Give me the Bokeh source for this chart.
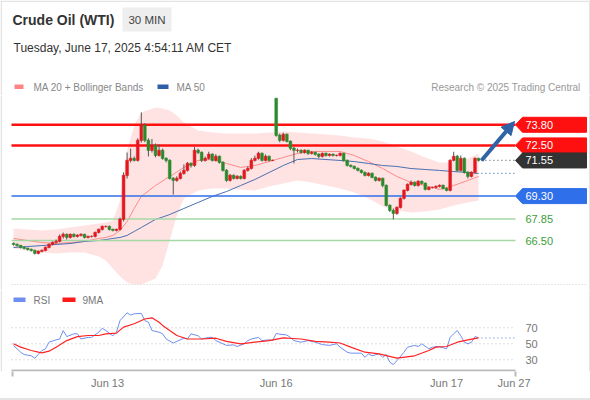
from bokeh.plotting import figure
from bokeh.layouts import column
from bokeh.models import Range1d, FixedTicker, Arrow, NormalHead
from bokeh.core.properties import value
from bokeh.embed import file_html
from bokeh.resources import INLINE

FONT = "Liberation Sans"

# ---------------- data ----------------
OPEN = [66.31, 66.25, 66.18, 66.06, 66.00, 65.93, 65.87, 65.68, 65.81, 65.87,
        66.06, 66.25, 66.37, 66.44, 66.75, 66.88, 66.69, 66.88, 66.75, 66.82,
        66.88, 66.69, 66.75, 66.75, 67.00, 67.19, 67.38, 67.38, 67.19, 67.13,
        67.19, 67.83, 70.60, 71.55, 71.67, 71.55, 72.81, 73.76, 72.81, 72.18,
        72.49, 71.86, 72.18, 71.67, 71.55, 70.41, 70.29, 70.41, 70.73, 70.92,
        71.36, 71.23, 72.18, 72.05, 71.55, 71.67, 71.93, 71.55, 71.80, 71.42,
        70.92, 70.29, 70.60, 70.41, 70.54, 70.41, 70.92, 71.04, 71.55, 71.67,
        71.99, 71.55, 71.80, 71.55, 75.46, 73.13, 72.81, 73.19, 72.75, 72.31,
        72.18, 72.18, 72.05, 72.18, 71.99, 72.05, 71.93, 71.80, 71.99, 71.86,
        71.93, 71.86, 71.86, 71.99, 71.55, 71.23, 71.17, 71.04, 70.92, 70.79,
        70.60, 70.73, 70.48, 70.29, 70.41, 69.97, 68.71, 68.39, 68.20, 68.58,
        69.15, 69.66, 70.03, 70.16, 69.97, 70.22, 70.10, 69.72, 69.84, 69.84,
        69.91, 69.97, 69.78, 69.66, 71.55, 71.80, 70.92, 71.67, 70.79, 70.54,
        70.79, 71.67]
CLOSE = [66.25, 66.18, 66.06, 66.00, 65.93, 65.87, 65.68, 65.81, 65.87, 66.06,
         66.25, 66.37, 66.44, 66.75, 66.88, 66.69, 66.88, 66.75, 66.82, 66.88,
         66.69, 66.75, 66.75, 67.00, 67.19, 67.38, 67.38, 67.19, 67.13, 67.19,
         67.83, 70.60, 71.55, 71.67, 71.55, 72.81, 73.76, 72.81, 72.18, 72.49,
         71.86, 72.18, 71.67, 71.55, 70.41, 70.29, 70.41, 70.73, 70.92, 71.36,
         71.23, 72.18, 72.05, 71.55, 71.67, 71.93, 71.55, 71.80, 71.42, 70.92,
         70.29, 70.60, 70.41, 70.54, 70.41, 70.92, 71.04, 71.55, 71.67, 71.99,
         71.55, 71.80, 71.55, 71.55, 73.13, 72.81, 73.19, 72.75, 72.31, 72.18,
         72.18, 72.05, 72.18, 71.99, 72.05, 71.93, 71.80, 71.99, 71.86, 71.93,
         71.86, 71.86, 71.99, 71.55, 71.23, 71.17, 71.04, 70.92, 70.79, 70.60,
         70.73, 70.48, 70.29, 70.41, 69.97, 68.71, 68.39, 68.20, 68.58, 69.15,
         69.66, 70.03, 70.16, 69.97, 70.22, 70.10, 69.72, 69.84, 69.84, 69.91,
         69.97, 69.78, 69.66, 71.55, 71.80, 70.92, 71.67, 70.79, 70.54, 70.79,
         71.67, 71.55]
HIGH = [66.37, 66.31, 66.22, 66.12, 66.05, 65.99, 65.92, 65.87, 65.93, 66.12,
        66.31, 66.44, 66.56, 66.88, 67.00, 66.94, 66.94, 66.94, 66.90, 66.95,
        66.92, 66.80, 66.82, 67.06, 67.25, 67.44, 67.44, 67.44, 67.25, 67.25,
        67.95, 70.80, 72.05, 72.30, 71.80, 72.95, 74.58, 73.90, 72.95, 72.90,
        72.62, 72.56, 72.30, 71.75, 71.62, 70.50, 70.55, 70.85, 71.30, 71.45,
        71.42, 72.40, 72.30, 72.12, 71.80, 72.10, 72.00, 71.95, 71.86, 71.50,
        71.00, 70.70, 70.66, 70.62, 70.60, 71.00, 71.17, 71.70, 71.86, 72.10,
        72.05, 71.93, 71.86, 71.60, 75.46, 73.25, 73.30, 73.25, 72.81, 72.40,
        72.30, 72.25, 72.25, 72.22, 72.15, 72.10, 72.00, 72.05, 72.05, 72.00,
        71.99, 71.92, 72.05, 72.02, 71.60, 71.30, 71.22, 71.10, 70.98, 70.85,
        70.80, 70.78, 70.54, 70.48, 70.47, 70.03, 68.78, 68.52, 68.65, 69.22,
        69.72, 70.10, 70.28, 70.22, 70.30, 70.28, 70.16, 69.90, 69.90, 69.97,
        70.03, 70.03, 69.84, 71.62, 72.10, 71.90, 71.86, 71.74, 70.86, 70.86,
        71.74, 71.72]
LOW = [66.18, 66.12, 66.00, 65.94, 65.87, 65.80, 65.62, 65.63, 65.75, 65.81,
       66.00, 66.19, 66.31, 66.38, 66.62, 66.56, 66.62, 66.69, 66.69, 66.75,
       66.63, 66.63, 66.69, 66.69, 66.94, 67.13, 67.31, 67.13, 67.07, 67.07,
       67.13, 67.70, 70.41, 71.42, 71.48, 71.48, 72.68, 72.70, 71.80, 72.05,
       71.75, 71.80, 71.60, 71.42, 70.35, 69.40, 70.20, 70.35, 70.65, 70.85,
       71.10, 71.15, 71.95, 71.45, 71.48, 71.60, 71.48, 71.48, 71.35, 70.85,
       70.20, 70.22, 70.35, 70.35, 70.35, 70.35, 70.85, 70.98, 71.48, 71.60,
       71.48, 71.48, 71.48, 71.50, 73.05, 72.70, 72.75, 72.68, 72.20, 71.36,
       72.05, 71.98, 71.98, 71.90, 71.92, 71.85, 71.70, 71.74, 71.80, 71.80,
       71.80, 71.80, 71.80, 71.48, 71.17, 71.10, 70.98, 70.86, 70.72, 70.54,
       70.54, 70.42, 70.22, 70.22, 69.85, 68.65, 68.30, 67.83, 68.12, 68.52,
       69.08, 69.60, 69.96, 69.90, 69.90, 70.03, 69.66, 69.66, 69.78, 69.78,
       69.85, 69.72, 69.60, 69.60, 71.48, 70.85, 70.85, 70.72, 70.41, 70.48,
       70.72, 71.48]

BAND_IDX = [0, 4, 8, 12, 16, 20, 24, 26, 28, 30, 32, 34, 36, 40, 42, 44, 46, 48, 52,
            56, 60, 64, 68, 72, 76, 80, 84, 88, 92, 96, 100, 104, 108, 112, 116, 120,
            124, 128, 131]
BB_UPPER = [67.26, 67.19, 67.13, 67.19, 67.32, 67.45, 67.57, 67.64, 67.76, 69.02,
            72.18, 73.76, 74.58, 74.89, 74.83, 74.70, 74.39, 73.94, 73.44, 73.31,
            73.25, 73.25, 73.25, 73.31, 73.38, 73.31, 73.25, 73.19, 73.12, 73.00,
            72.94, 72.75, 72.43, 72.12, 71.74, 71.42, 71.42, 71.67, 71.99]
BB_LOWER = [66.00, 65.87, 65.74, 65.68, 65.74, 65.74, 65.49, 65.24, 64.73, 64.23,
            63.85, 63.72, 63.72, 64.10, 64.92, 66.50, 68.08, 69.15, 69.65, 69.78,
            69.78, 69.72, 69.65, 69.91, 70.10, 70.29, 70.16, 69.97, 69.78, 69.53,
            69.15, 68.65, 68.39, 68.27, 68.33, 68.46, 68.71, 68.90, 69.02]
MA20 = [66.63, 66.50, 66.37, 66.31, 66.37, 66.44, 66.63, 66.69, 66.82, 67.13,
        67.70, 68.52, 69.28, 69.97, 70.25, 70.54, 70.82, 71.11, 71.55, 71.61,
        71.36, 71.11, 71.23, 71.48, 71.74, 71.99, 72.12, 72.12, 72.12, 71.86,
        71.48, 71.04, 70.54, 70.16, 69.97, 69.72, 69.97, 70.29, 70.54]
MA50 = [66.06, 66.12, 66.18, 66.25, 66.31, 66.44, 66.50, 66.56, 66.63, 66.69,
        66.82, 67.07, 67.32, 67.83, 67.98, 68.14, 68.33, 68.52, 68.90, 69.28,
        69.59, 69.97, 70.35, 70.79, 71.23, 71.61, 71.67, 71.61, 71.55, 71.48,
        71.36, 71.23, 71.17, 71.04, 70.98, 70.92, 70.85, 70.79, 70.73]

RSI_IDX = [0, 2, 3, 5, 6, 8, 9, 10, 12, 13, 14, 15, 17, 18, 19, 21, 22, 24, 25, 26,
           28, 29, 30, 32, 33, 34, 36, 37, 38, 39, 41, 42, 43, 45, 46, 48, 49, 50, 52, 53,
           55, 56, 57, 59, 60, 62, 63, 65, 66, 67, 69, 70, 72, 73, 74, 75, 77, 78, 79, 81,
           83, 85, 87, 89, 91, 92, 94, 95, 98, 99, 100, 101, 103, 104, 105, 106, 107, 108,
           110, 111, 113, 114, 115, 117, 118, 120, 122, 123, 124, 125, 126, 127, 128,
           129, 130, 131]
RSI = [48, 39.5, 36.6, 35, 32, 41.6, 43.7, 52, 55, 56, 66.6, 59, 62.5, 62.5, 56, 58, 58,
       64.5, 69.5, 66.6, 60, 64.5, 79, 88.7, 86, 87.5, 88, 79, 77, 66.6, 64.5, 62.5, 56,
       51, 53, 57, 56, 62.5, 60, 56, 58, 58, 54, 50, 48, 48.7, 46.6, 50, 54, 56, 58, 54,
       55, 54, 63, 62, 61, 58, 54, 52, 54, 52, 49, 48, 50, 45.8, 39.5, 38.3, 38.3, 33,
       37.5, 35, 37.5, 33, 36.6, 27, 24, 29, 39.5, 45.8, 48, 46.6, 50, 43.7, 45.8, 46.6,
       43.7, 58, 62.5, 66.6, 60, 52, 50, 52, 59, 57.5]
MA9_IDX = [0, 2, 5, 7, 8, 10, 12, 15, 18, 21, 24, 26, 29, 31, 34, 37, 39, 41, 42, 44,
           46, 49, 53, 57, 60, 64, 68, 72, 76, 81, 85, 89, 92, 95, 99, 103, 108, 113,
           117, 119, 122, 125, 128, 131]
RSI_MA9 = [50, 45.8, 41.6, 39.5, 38.7, 40.8, 45.8, 54, 59, 60.4, 60.4, 62.5, 63.3, 70.8,
           75, 81, 82.5, 77, 73, 66.6, 60.4, 56, 56, 57, 53, 50, 52, 54, 57.5, 56, 53, 52,
           51, 45.8, 39.5, 37.5, 32, 35, 41.6, 45.8, 46.6, 52, 55, 57.5]

LEVELS = [73.80, 72.50, 71.55, 69.30, 67.85, 66.50]
LEVEL_LABELS = ["73.80", "72.50", "71.55", "69.30", "67.85", "66.50"]
LAST_PRICE = 71.55
DATE_TICKS = [26.5, 74, 122, 141]
DATE_LABELS = ["Jun 13", "Jun 16", "Jun 17", "Jun 27"]
RSI_LEVELS = [30, 50, 70]
RSI_LEVEL_LABELS = ["30", "50", "70"]

# ---------------- layout helpers (page pixel -> data) ----------------
X0, DX = 13.0, 3.55          # page pixel of candle 0, pixels per candle
PY0, PPX = 240.0, 15.85      # page pixel of 66.50, pixels per dollar
RY0, RPX = 343.3, 0.8        # page pixel of RSI 50, pixels per RSI unit


def ix(px):
    return (px - X0) / DX


def py(px):
    return 66.5 + (PY0 - px) / PPX


def ry(px):
    return 50 + (RY0 - px) / RPX


W = 590
H_HEAD, H_PRICE, H_RSI = 95, 195, 108
BORDER = "#e4e4e4"


def tx(p, x, y, t, size, color, bold=False, align="left"):
    p.text(x=[x], y=[y], text=[t], text_font=value(FONT), text_font_size=value(size),
           text_color=color, text_baseline="middle", text_align=align,
           text_font_style="bold" if bold else "normal")


def bare(p):
    p.min_border_left = p.min_border_right = p.min_border_top = 0
    p.min_border_bottom = 0
    p.outline_line_color = None
    p.grid.visible = False


# ---------------- header ----------------
head = figure(width=W, height=H_HEAD, x_range=Range1d(0, 590), y_range=Range1d(95, 0),
              output_backend="svg", toolbar_location=None,
              x_axis_location=None, y_axis_location=None, min_border=0)
bare(head)
head.segment(x0=[0.8, 589.2, 0], y0=[0, 0, 0.8], x1=[0.8, 589.2, 590], y1=[95, 95, 0.8],
             line_color=BORDER, line_width=1.6)
tx(head, 12, 19.5, "Crude Oil (WTI)", "14px", "#333333", bold=True)
head.quad(left=[122], right=[171], top=[7], bottom=[31], fill_color="#eeeeee", line_color=None)
tx(head, 146.5, 19.5, "30 MIN", "11.5px", "#444444", align="center")
tx(head, 13, 47.5, "Tuesday, June 17, 2025 4:54:11 AM CET", "12px", "#333333")
head.quad(left=[14], right=[23], top=[84], bottom=[88.5], fill_color="#ff8585", line_color=None)
tx(head, 33, 86.5, "MA 20 + Bollinger Bands", "10px", "#888888")
head.quad(left=[157], right=[168], top=[84], bottom=[88.5], fill_color="#2f5ea6", line_color=None)
tx(head, 176, 86.5, "MA 50", "10px", "#888888")
tx(head, 580, 86.5, "Research \u00a9 2025 Trading Central", "10px", "#999999", align="right")

# ---------------- price panel ----------------
pf = figure(width=W, height=H_PRICE, x_range=Range1d(ix(0), ix(590)),
            y_range=Range1d(py(290), py(95)), output_backend="svg",
            toolbar_location=None, x_axis_location=None, y_axis_location=None, min_border=0)
bare(pf)
pf.segment(x0=[ix(0.8), ix(589.2)], y0=[py(290), py(290)], x1=[ix(0.8), ix(589.2)],
           y1=[py(95), py(95)], line_color=BORDER, line_width=1.6)

pf.varea(x=BAND_IDX, y1=BB_LOWER, y2=BB_UPPER, fill_color="#ffd9d9", fill_alpha=0.75)
pf.line(BAND_IDX, MA20, line_color="#ff8a8a", line_width=1)
pf.line(BAND_IDX, MA50, line_color="#4a6fb0", line_width=1)

# separator dotted line at bottom of price panel
pf.segment(x0=[ix(11)], y0=[py(284)], x1=[ix(586)], y1=[py(284)],
           line_color="#d0d0d0", line_dash="1 2", line_width=1)

# level lines
x_line0, x_line1 = ix(11), ix(515)
lvl_colors = ["#ff1010", "#ff1010", None, "#2f6fea", "#a6d8a6", "#a6d8a6"]
lvl_widths = [2.5, 2.5, 0, 1.5, 1.5, 1.5]
for lv, c, w in zip(LEVELS, lvl_colors, lvl_widths):
    if c is not None:
        pf.segment(x0=[x_line0], y0=[lv], x1=[x_line1], y1=[lv], line_color=c, line_width=w)

# candles
idx = list(range(len(CLOSE)))
up = [c >= o for o, c in zip(OPEN, CLOSE)]
body_col = ["#e3171e" if u else "#2b8a2b" for u in up]
pf.segment(x0=idx, y0=LOW, x1=idx, y1=HIGH, line_color="#555555", line_width=1)
pf.vbar(x=idx, bottom=[min(o, c) for o, c in zip(OPEN, CLOSE)],
        top=[max(o, c) + 0.02 for o, c in zip(OPEN, CLOSE)], width=0.78,
        fill_color=body_col, line_color=body_col, line_width=0.5)

# dotted extensions
last_i = idx[-1]
pf.segment(x0=[last_i + 0.8], y0=[LAST_PRICE], x1=[ix(515)], y1=[LAST_PRICE],
           line_color="#666666", line_dash="1 3", line_width=1.2)
pf.segment(x0=[BAND_IDX[-1] + 0.8], y0=[MA50[-1]], x1=[ix(515)], y1=[MA50[-1]],
           line_color="#4a6fb0", line_dash="1 3", line_width=1.2)

# price level labels
box_cols = ["#ff1010", "#ff1010", "#333333", "#2f6fea", None, None]
half = 7.5 / PPX
tip, body, right = ix(515), ix(522), ix(586)
for lv, lab, bc in zip(LEVELS, LEVEL_LABELS, box_cols):
    if bc is not None:
        pf.patch(x=[tip, body, right, right, body], y=[lv, lv + half, lv + half, lv - half, lv - half],
                 fill_color=bc, line_color=bc)
        tx(pf, ix(525), lv, lab, "11px", "#ffffff")
    else:
        tx(pf, ix(525), lv, lab, "11px", "#3a9e3a")

# arrow
pf.add_layout(Arrow(x_start=ix(481), y_start=py(160), x_end=ix(514), y_end=py(121),
                    line_color="#2f63a6", line_width=4,
                    end=NormalHead(size=13, fill_color="#2f63a6", line_color="#2f63a6")))

# ---------------- RSI panel ----------------
rf = figure(width=W, height=H_RSI, x_range=Range1d(ix(0), ix(590)),
            y_range=Range1d(ry(371), ry(290)), output_backend="svg",
            toolbar_location=None, y_axis_location=None)
bare(rf)
rf.min_border_bottom = H_RSI - 81
rf.segment(x0=[ix(0.8), ix(589.2)], y0=[ry(371), ry(371)], x1=[ix(0.8), ix(589.2)],
           y1=[ry(290), ry(290)], line_color=BORDER, line_width=1.6)

# dotted RSI levels + labels
for lv, lab in zip(RSI_LEVELS, RSI_LEVEL_LABELS):
    rf.segment(x0=[ix(11)], y0=[lv], x1=[ix(515)], y1=[lv],
               line_color="#bbbbbb", line_dash="1 3", line_width=1)
    tx(rf, ix(525), lv, lab, "11px", "#777777")

# axis line
rf.segment(x0=[ix(11)], y0=[ry(370)], x1=[ix(515)], y1=[ry(370)],
           line_color="#bbbbbb", line_width=2)

xa = rf.xaxis[0]
xa.ticker = FixedTicker(ticks=DATE_TICKS, minor_ticks=[ix(11.5), ix(514.5)])
xa.major_label_overrides = {t: l for t, l in zip(DATE_TICKS, DATE_LABELS)}
xa.axis_line_color = None
xa.major_tick_line_color = None
xa.major_tick_out = 0
xa.major_tick_in = 0
xa.minor_tick_line_color = "#bbbbbb"
xa.minor_tick_line_width = 2
xa.minor_tick_out = 5
xa.minor_tick_in = 0
xa.major_label_standoff = 0
xa.major_label_text_font = FONT
xa.major_label_text_font_size = "11px"
xa.major_label_text_color = "#777777"

rf.line(RSI_IDX, RSI, line_color="#6e8ff0", line_width=1)
rf.line(MA9_IDX, RSI_MA9, line_color="#ff2222", line_width=1.2)
rf.segment(x0=[RSI_IDX[-1] + 0.8], y0=[RSI[-1]], x1=[ix(515)], y1=[RSI[-1]],
           line_color="#6e8ff0", line_dash="1 3", line_width=1.2)

# RSI legend
rf.quad(left=[ix(13)], right=[ix(25)], top=[ry(297)], bottom=[ry(301.5)],
        fill_color="#6e8ff0", line_color=None)
tx(rf, ix(33), ry(299.5), "RSI", "10px", "#777777")
rf.quad(left=[ix(62)], right=[ix(75)], top=[ry(297)], bottom=[ry(301.5)],
        fill_color="#ff1a1a", line_color=None)
tx(rf, ix(82), ry(299.5), "9MA", "10px", "#777777")

layout = column(head, pf, rf, spacing=0,
                styles={"border-bottom": "2px solid #e4e4e4"})
open("out.html", "w").write(file_html(layout, INLINE))
